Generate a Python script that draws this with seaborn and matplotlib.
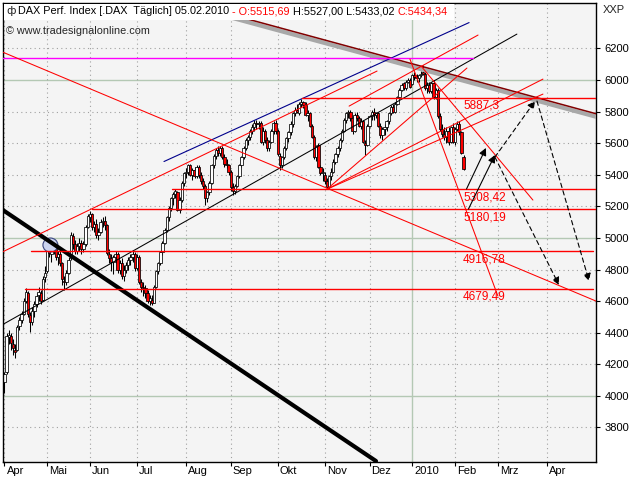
"""DAX daily candles with hand-drawn trend analysis (tradesignal style)."""

import matplotlib

matplotlib.use("Agg")

import matplotlib.pyplot as plt
import numpy as np
import seaborn as sns
from matplotlib.patches import Ellipse, Rectangle
from matplotlib.transforms import ScaledTranslation

sns.set_theme(style="white")
plt.rcParams["font.family"] = ["Liberation Sans", "DejaVu Sans"]

# daily OHLC, 1 Apr 2009 .. 5 Feb 2010 (trading-day index 0..215)
opens = [
    4090, 4150, 4370, 4380, 4330, 4290, 4290, 4440, 4480, 4520,
    4600, 4650, 4510, 4470, 4540, 4580, 4640, 4650, 4610, 4750,
    4790, 4950, 4900, 4960, 4930, 4880, 4900, 4840, 4730, 4720,
    4780, 4870, 5010, 4960, 4920, 4950, 4970, 4930, 4960, 5070,
    5130, 5150, 5070, 5090, 5020, 5040, 5100, 5110, 5080, 4900,
    4870, 4850, 4880, 4900, 4800, 4840, 4760, 4800, 4830, 4860,
    4880, 4900, 4810, 4880, 4720, 4690, 4680, 4650, 4600, 4610,
    4590, 4690, 4790, 4840, 4910, 4970, 5050, 5130, 5190, 5250,
    5280, 5290, 5180, 5240, 5350, 5410, 5420, 5460, 5400, 5430,
    5390, 5450, 5400, 5360, 5330, 5250, 5290, 5350, 5460, 5520,
    5560, 5540, 5570, 5510, 5470, 5460, 5420, 5320, 5300, 5330,
    5390, 5460, 5510, 5570, 5620, 5640, 5680, 5700, 5730, 5720,
    5730, 5610, 5680, 5620, 5570, 5610, 5680, 5730, 5680, 5520,
    5460, 5510, 5570, 5630, 5670, 5720, 5790, 5810, 5790, 5850,
    5860, 5840, 5780, 5790, 5710, 5640, 5510, 5590, 5450, 5410,
    5400, 5360, 5320, 5390, 5420, 5480, 5530, 5570, 5620, 5680,
    5750, 5790, 5800, 5760, 5680, 5780, 5760, 5710, 5740, 5600,
    5590, 5710, 5770, 5800, 5780, 5790, 5710, 5650, 5690, 5700,
    5740, 5790, 5830, 5800, 5850, 5890, 5940, 5980, 5950, 5990,
    6000, 5975, 6030, 6020, 6010, 6030, 6050, 6040, 5950, 5970,
    5930, 5980, 5890, 5940, 5770, 5690, 5660, 5640, 5680, 5610,
    5700, 5610, 5690, 5720, 5670, 5515.69,
]
highs = [
    4150, 4400, 4420, 4400, 4360, 4330, 4450, 4500, 4540, 4620,
    4680, 4665, 4530, 4560, 4600, 4650, 4690, 4670, 4760, 4820,
    4960, 4990, 4980, 4990, 4960, 4920, 4940, 4850, 4760, 4800,
    4880, 5040, 5030, 4990, 4970, 5000, 4990, 4980, 5080, 5150,
    5170, 5160, 5110, 5120, 5060, 5120, 5130, 5140, 5090, 4930,
    4900, 4890, 4920, 4910, 4860, 4870, 4830, 4850, 4880, 4900,
    4915, 4910, 4900, 4890, 4740, 4720, 4700, 4670, 4640, 4640,
    4700, 4800, 4850, 4920, 4980, 5060, 5140, 5200, 5260, 5290,
    5310, 5300, 5260, 5360, 5420, 5440, 5470, 5470, 5440, 5450,
    5460, 5460, 5420, 5380, 5340, 5300, 5360, 5470, 5530, 5570,
    5580, 5580, 5580, 5530, 5500, 5470, 5430, 5350, 5340, 5400,
    5470, 5520, 5580, 5630, 5650, 5690, 5720, 5750, 5750, 5740,
    5740, 5700, 5690, 5640, 5620, 5690, 5740, 5750, 5690, 5540,
    5520, 5580, 5640, 5680, 5740, 5800, 5830, 5850, 5860, 5880,
    5870, 5860, 5810, 5800, 5720, 5650, 5590, 5600, 5460, 5440,
    5420, 5380, 5400, 5440, 5500, 5540, 5580, 5630, 5690, 5760,
    5800, 5810, 5810, 5770, 5790, 5800, 5770, 5760, 5750, 5620,
    5720, 5780, 5810, 5820, 5800, 5800, 5730, 5700, 5720, 5750,
    5800, 5840, 5850, 5860, 5900, 5950, 5980, 5990, 6000, 6010,
    6010, 6040, 6050, 6040, 6040, 6060, 6094, 6050, 5990, 5990,
    5990, 6000, 5950, 5950, 5790, 5720, 5700, 5700, 5700, 5710,
    5730, 5700, 5740, 5740, 5680, 5527.00,
]
lows = [
    4020, 4140, 4330, 4290, 4260, 4240, 4285, 4420, 4460, 4510,
    4590, 4500, 4404, 4450, 4500, 4560, 4600, 4580, 4600, 4720,
    4780, 4880, 4850, 4900, 4860, 4830, 4820, 4700, 4670, 4700,
    4770, 4860, 4930, 4900, 4900, 4920, 4900, 4910, 4950, 5060,
    5100, 5050, 5040, 5000, 4990, 5030, 5070, 5050, 4890, 4840,
    4790, 4770, 4840, 4780, 4770, 4740, 4730, 4780, 4800, 4830,
    4850, 4790, 4800, 4710, 4660, 4630, 4620, 4590, 4575, 4575,
    4585, 4680, 4770, 4830, 4890, 4960, 5040, 5110, 5170, 5210,
    5250, 5170, 5160, 5230, 5330, 5380, 5400, 5390, 5370, 5380,
    5380, 5380, 5340, 5310, 5210, 5230, 5270, 5340, 5440, 5500,
    5520, 5520, 5500, 5450, 5440, 5400, 5300, 5270, 5280, 5320,
    5380, 5450, 5500, 5560, 5590, 5620, 5660, 5680, 5690, 5690,
    5600, 5590, 5600, 5550, 5550, 5600, 5660, 5660, 5520, 5430,
    5440, 5500, 5560, 5610, 5650, 5700, 5770, 5790, 5780, 5830,
    5820, 5770, 5740, 5700, 5630, 5500, 5490, 5440, 5400, 5360,
    5340, 5308.42, 5310, 5370, 5410, 5470, 5510, 5550, 5610, 5670,
    5730, 5760, 5740, 5660, 5670, 5740, 5700, 5690, 5600, 5525,
    5580, 5700, 5750, 5750, 5760, 5700, 5630, 5620, 5650, 5680,
    5720, 5780, 5790, 5790, 5840, 5880, 5930, 5940, 5940, 5980,
    5950, 5970, 6000, 5990, 5990, 6020, 6030, 5940, 5920, 5920,
    5920, 5880, 5880, 5760, 5680, 5640, 5620, 5600, 5590, 5600,
    5600, 5590, 5680, 5650, 5530, 5433.02,
]
closes = [
    4140, 4381, 4384, 4333, 4300, 4275, 4436, 4480, 4520, 4600,
    4660, 4520, 4470, 4540, 4580, 4630, 4660, 4600, 4740, 4780,
    4950, 4905, 4960, 4930, 4880, 4900, 4840, 4740, 4720, 4780,
    4860, 5020, 4960, 4920, 4950, 4970, 4930, 4960, 5070, 5140,
    5150, 5070, 5090, 5020, 5040, 5100, 5110, 5080, 4905, 4870,
    4850, 4880, 4900, 4800, 4840, 4760, 4800, 4830, 4860, 4880,
    4900, 4810, 4880, 4720, 4690, 4680, 4650, 4600, 4620, 4590,
    4690, 4790, 4840, 4910, 4970, 5050, 5130, 5190, 5250, 5280,
    5300, 5180, 5240, 5350, 5410, 5420, 5460, 5400, 5430, 5390,
    5450, 5400, 5360, 5330, 5250, 5290, 5350, 5460, 5520, 5560,
    5540, 5570, 5510, 5470, 5460, 5420, 5320, 5300, 5330, 5390,
    5460, 5510, 5570, 5620, 5640, 5680, 5700, 5730, 5720, 5730,
    5610, 5680, 5620, 5570, 5610, 5680, 5730, 5680, 5530, 5460,
    5510, 5570, 5630, 5670, 5720, 5790, 5810, 5800, 5850, 5860,
    5840, 5780, 5790, 5710, 5640, 5510, 5580, 5450, 5410, 5415,
    5360, 5320, 5390, 5420, 5480, 5530, 5570, 5620, 5680, 5750,
    5790, 5800, 5760, 5680, 5780, 5760, 5710, 5740, 5610, 5590,
    5710, 5770, 5800, 5780, 5790, 5710, 5650, 5690, 5700, 5740,
    5790, 5830, 5800, 5850, 5890, 5940, 5970, 5950, 5990, 6000,
    5957, 6030, 6020, 6010, 6030, 6040, 6040, 5950, 5970, 5930,
    5980, 5890, 5940, 5770, 5690, 5660, 5640, 5680, 5610, 5700,
    5610, 5690, 5720, 5670, 5540, 5434.34,
]

month_days = [0, 20, 40, 62, 85, 106, 128, 150, 171, 191, 211, 231, 254]
month_labels = ["Apr", "Mai", "Jun", "Jul", "Aug", "Sep", "Okt", "Nov",
                "Dez", "2010", "Feb", "Mrz", "Apr"]
year_day = 191
price_ticks = list(range(3800, 6201, 200))
major_prices = [4000, 5000, 6000]

# horizontal support / resistance levels
levels = [5887.3, 5308.42, 5180.19, 4916.78, 4679.49]
level_labels = ["5887,3", "5308,42", "5180,19", "4916,78", "4679,49"]
level_from = [139.3, 78.5, 41.0, 12.4, 9.6]
level_to = [277.1, 277.1, 277.1, 275.6, 275.6]
label_day = 214.8

# trend lines as (days, prices)
support_days, support_prices = [-2.1, 174.0], [5189, 3587]
channel_days, channel_prices = [-2.1, 240.0], [4442, 6291]
blue_days, blue_prices = [74.7, 217.6], [5484, 6364]
upper_days, upper_prices = [-2.1, 174.5], [4904, 6057]
top_days, top_prices = [161.4, 221.8], [5835, 6285]
fan_start = (151.0, 5308.42)
fan_end_days = [216.6, 252.2, 252.2]
fan_end_prices = [6076, 6006, 5911]
falling_days, falling_prices = [-2.1, 277.1], [6184, 4600]
steep_days, steep_prices = [189.9, 231.1], [6133, 4632]
slope_days, slope_prices = [195.1, 247.5], [6089, 5240]
magenta_days, magenta_prices = [-2.1, 219.4], [6137, 6137]
resist_days, resist_prices = [96.0, 277.5], [6452, 5785]
shadow_days, shadow_prices = [96.0, 277.5], [6433, 5766]

# projected moves (start, tip)
solid_arrows = [((216.4, 5310), (225.5, 5570)), ((217.3, 5183), (229.7, 5525))]
dashed_arrows = [((229.7, 5512), (248.5, 5867)),
                 ((229.7, 5512), (259.7, 4702)),
                 ((249.4, 5867), (273.8, 4727))]

marker_day, marker_price = 21.5, 4955

RED = "#ff0000"
GRID = "#a0a0a0"
MAJOR = "#b4c8b4"
HEAD_SIZE = 7.8

fig = plt.figure(figsize=(6.4, 4.8), dpi=100)
fig.patch.set_facecolor("white")
ax = fig.add_axes([3 / 640, 18 / 480, 593 / 640, 459 / 480])
ax.set_facecolor("#f4f4f4")
ax.set_xlim(-0.7, 277.05)
ax.set_ylim(3581, 6488)

# grid
for p in price_ticks:
    if p in major_prices:
        ax.axhline(p, color=MAJOR, lw=1.0, zorder=0.5)
    else:
        ax.axhline(p, color=GRID, lw=0.8, ls=(0, (1, 3)), zorder=0.5)
for d in month_days:
    if d == year_day:
        ax.axvline(d, color=MAJOR, lw=1.0, zorder=0.5)
    else:
        ax.axvline(d, color=GRID, lw=0.8, ls=(0, (1, 3)), zorder=0.5)

# candles
days = np.arange(len(closes))
o = np.array(opens, dtype=float)
c = np.array(closes, dtype=float)
ax.vlines(days, lows, highs, color="black", lw=0.75, zorder=2)
body_low = np.minimum(o, c)
body_h = np.maximum(np.abs(c - o), 6)
body_col = [RED if cc < oo else "white" for oo, cc in zip(o, c)]
ax.bar(days, body_h, bottom=body_low, width=1.1, color=body_col,
       edgecolor="black", linewidth=0.55, zorder=2.2)

ax.add_patch(Ellipse((marker_day, marker_price), width=7.0, height=89,
                     facecolor="#ccd4f0", edgecolor="#3a4680", lw=0.8,
                     zorder=2.6))


def trend(xs, ys, color, lw, z=3):
    sns.lineplot(x=xs, y=ys, ax=ax, color=color, linewidth=lw, zorder=z,
                 sort=False, estimator=None)


trend(shadow_days, shadow_prices, "#a8a8a8", 3.0, 2.9)
trend(resist_days, resist_prices, "#800000", 1.1)
trend(support_days, support_prices, "black", 3.0)
trend(channel_days, channel_prices, "black", 0.75)
trend(blue_days, blue_prices, "#00008b", 0.8)
trend(magenta_days, magenta_prices, "#ff00ff", 1.0)
for xs, ys in [(upper_days, upper_prices), (top_days, top_prices),
               (falling_days, falling_prices), (steep_days, steep_prices),
               (slope_days, slope_prices)]:
    trend(xs, ys, RED, 0.75)
for ed, ep in zip(fan_end_days, fan_end_prices):
    trend([fan_start[0], ed], [fan_start[1], ep], RED, 0.75)

for lv, lab, x0, x1 in zip(levels, level_labels, level_from, level_to):
    trend([x0, x1], [lv, lv], RED, 1.0)
    ax.annotate(lab, xy=(label_day, lv), xytext=(0, -1.5),
                textcoords="offset points", ha="left", va="top",
                color=RED, fontsize=8.5, zorder=4)

for start, tip in solid_arrows:
    ax.annotate("", xy=tip, xytext=start, zorder=4,
                arrowprops=dict(arrowstyle="-|>", color="black", lw=0.8,
                                mutation_scale=11, shrinkA=0, shrinkB=0))
for start, tip in dashed_arrows:
    ax.annotate("", xy=tip, xytext=start, zorder=4,
                arrowprops=dict(arrowstyle="-|>", color="black", lw=0.8,
                                ls=(0, (4, 3)), mutation_scale=11,
                                shrinkA=0, shrinkB=0))

# axes styling
for sp in ax.spines.values():
    sp.set_color("black")
    sp.set_linewidth(1.0)
ax.yaxis.tick_right()
ax.set_yticks(price_ticks)
ax.set_yticklabels([str(p) for p in price_ticks])
ax.set_xticks(month_days)
ax.set_xticklabels(month_labels)
ax.tick_params(axis="y", which="both", right=True, left=False, direction="out",
               length=3, width=0.8, pad=3, labelsize=8, colors="black")
ax.tick_params(axis="x", which="both", bottom=True, direction="out",
               length=3, width=0.8, pad=0.0, labelsize=8, colors="black")
shift = ScaledTranslation(2 / 100, 0, fig.dpi_scale_trans)
for lab in ax.get_xticklabels():
    lab.set_horizontalalignment("left")
    lab.set_transform(lab.get_transform() + shift)
ax.set_xlabel("")
ax.set_ylabel("")
ax.grid(False)

# header: white strip with coloured pieces laid out one after another
fig.add_artist(Rectangle((4 / 640, 1 - 20 / 480), 450 / 640, 16 / 480,
                         transform=fig.transFigure, facecolor="white",
                         edgecolor="none", zorder=5))
hy = 1 - 11 / 480
fig.text(6 / 640, hy, "ф", fontsize=8, va="center", ha="left", zorder=6,
         family=["DejaVu Sans"])
pieces = [("DAX Perf. Index [.DAX  Täglich] 05.02.2010 ", "black"),
          ("- O:5515,69 ", RED), ("H:5527,00 L:5433,02 ", "black"),
          ("C:5434,34", RED)]
x_cursor = 18.0
for txt, col in pieces:
    t = fig.text(x_cursor / 640, hy, txt, fontsize=HEAD_SIZE, color=col,
                 va="center", ha="left", zorder=6)
    fig.canvas.draw()
    x_cursor = t.get_window_extent(fig.canvas.get_renderer()).x1
fig.text(6 / 640, 1 - 31 / 480, "© www.tradesignalonline.com",
         fontsize=HEAD_SIZE, va="center", ha="left", zorder=6)
fig.text(603 / 640, 1 - 10 / 480, "XXP", fontsize=8, va="center", ha="left")

fig.savefig("out.png", dpi=100, facecolor="white")
plt.close(fig)
